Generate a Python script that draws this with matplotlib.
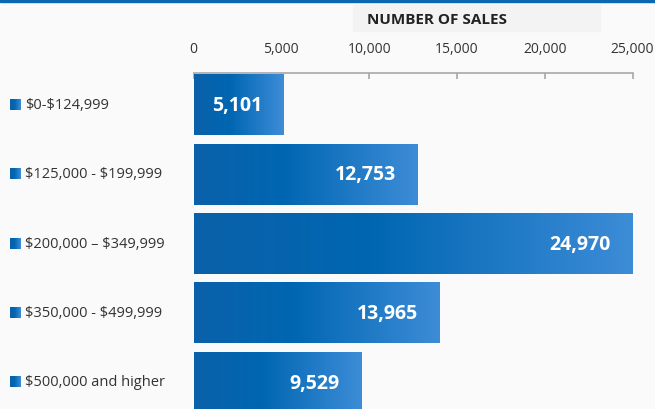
import numpy as np
import matplotlib.pyplot as plt
from matplotlib.colors import LinearSegmentedColormap
from matplotlib.patches import Rectangle
from matplotlib.ticker import FuncFormatter
import matplotlib.transforms as mtransforms

categories = ['$0-$124,999', '$125,000 - $199,999', '$200,000 \u2013 $349,999',
              '$350,000 - $499,999', '$500,000 and higher']
sales = [5101, 12753, 24970, 13965, 9529]
xticks = [0, 5000, 10000, 15000, 20000, 25000]
title = 'NUMBER OF SALES'

W, H = 655, 410
bg = '#fafafa'
grad = LinearSegmentedColormap.from_list(
    'bar', [(0.0, '#0b61a9'), (0.4, '#0066b2'), (1.0, '#3d8cd7')])

plt.rcParams['font.family'] = ['Open Sans', 'DejaVu Sans']
plt.rcParams['text.parse_math'] = False  # keep the dollar signs literal

fig = plt.figure(figsize=(W / 100, H / 100), dpi=100, facecolor=bg)

# plot area in pixels: x 193.5..632.5, top 74, bottom at figure edge
ax = fig.add_axes([193.5 / W, 0, 439 / W, 1 - 74 / H])
ax.set_facecolor(bg)

bar_h = 0.87
gx = np.linspace(0, 1, 256).reshape(1, -1)
for i, v in enumerate(sales):
    ax.imshow(gx, cmap=grad, aspect='auto', interpolation='bilinear',
              extent=[0, v, i + bar_h / 2, i - bar_h / 2], zorder=2)
    ax.annotate(f'{v:,}', xy=(v, i), xytext=(-15, 0), textcoords='offset points',
                ha='right', va='center', color='white', fontsize=14,
                fontweight='bold', zorder=3)

for s in ['bottom', 'left', 'right']:
    ax.spines[s].set_visible(False)
ax.spines['top'].set_color('#a8a8a8')
ax.spines['top'].set_linewidth(1.2)
ax.spines['top'].set_zorder(3)
ax.xaxis.tick_top()
ax.set_xticks(xticks)
ax.xaxis.set_major_formatter(FuncFormatter(lambda x, p: f'{int(x):,}'))
ax.tick_params(axis='x', direction='in', length=4, width=1.2, color='#a8a8a8',
               labelsize=10, labelcolor='#333333', pad=12)
ax.set_yticks([])

# category labels with small gradient squares
px = 25000 / 439
trans = mtransforms.blended_transform_factory(fig.transFigure, ax.transData)
sq = 11 / 69.5
for i, c in enumerate(categories):
    ax.imshow(gx, cmap=grad, aspect='auto', clip_on=False,
              extent=[(10 - 193.5) * px, (21 - 193.5) * px, i - 0.01 + sq / 2, i - 0.01 - sq / 2],
              zorder=2)
    ax.text(25 / W, i - 0.01, c, transform=trans, ha='left', va='center',
            fontsize=10.5, color='#333333')
ax.set_xlim(0, 25000)
ax.set_ylim(4.381, -0.46)

# title box and top accent line
fig.patches.append(Rectangle((353 / W, 1 - 32 / H), 247 / W, 26 / H,
                             transform=fig.transFigure, color='#f3f3f3', zorder=0))
fig.patches.append(Rectangle((0, 1 - 2.5 / H), 1, 2.5 / H,
                             transform=fig.transFigure, color='#0a67b0', zorder=0))
fig.text(367 / W, 1 - 19.5 / H, title, ha='left', va='center',
         fontsize=11, fontweight='bold', color='#222222')

fig.savefig('out.png', dpi=100, facecolor=bg)
